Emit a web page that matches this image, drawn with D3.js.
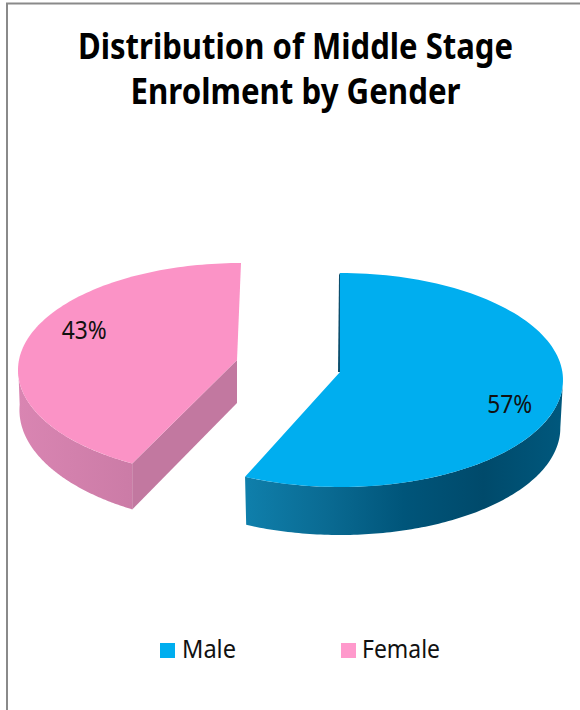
<!DOCTYPE html>
<html><head><meta charset="utf-8">
<script src="https://cdn.jsdelivr.net/npm/d3@7"></script>
<style>html,body{margin:0;padding:0;background:#fff}svg{display:block}</style>
</head><body><svg id="c" width="580" height="710"></svg>
<script>
const categories = ["Male", "Female"];
const values = [57, 43];
const titleLines = ["Distribution of Middle Stage", "Enrolment by Gender"];
const topColors = ["#00aeef", "#fb93c6"];
const legendColors = ["#00aeef", "#ff99cc"];

const svg = d3.select("#c");
const font = "'Noto Sans','Liberation Sans',sans-serif";
const rad = Math.PI / 180;

const color = d3.scaleOrdinal(categories, topColors);
const legendColor = d3.scaleOrdinal(categories, legendColors);
const pie = d3.pie().sort(null).value(d => d.value);
const slices = pie(categories.map((c, i) => ({ name: c, value: values[i] })));

// Each slice is pulled apart and seen in perspective, so it has its own ellipse.
const view = {
  Male:   { cx: 340, cy: 380, rx: 223, ry: 107, ax: 340, ay: 372, warp: 0, depth: 48, lf: 0.78, ldx: 0, ldy: 6 },
  Female: { cx: 241, cy: 370, rx: 223, ry: 107, ax: 237, ay: 360, warp: 4, depth: 46, lf: 0.72, ldx: 0, ldy: -23 }
};

function param(s, a) {
  const v = view[s.data.name];
  const t = (a - s.startAngle) / (s.endAngle - s.startAngle);
  return a + (s.data.name === "Female" ? (1 - t) * v.warp * rad : 0);
}
function rimPt(s, a, dy = 0) {
  const v = view[s.data.name], p = param(s, a);
  const k = dy ? 0.988 : 1;
  return [v.cx + v.rx * k * Math.sin(p), v.cy + dy - v.ry * Math.cos(p)];
}
function rimPts(s, a0, a1, dy = 0) {
  return d3.range(0, 121).map(i => rimPt(s, a0 + (a1 - a0) * i / 120, dy));
}
const line = d3.line();

// Border
svg.append("path").attr("d", "M7,710V3.5H580").attr("fill", "none").attr("stroke", "#8a8a8a").attr("stroke-width", 2);

// Gradients for the outer walls
const defs = svg.append("defs");
function grad(id, x1, x2, stops) {
  const g = defs.append("linearGradient").attr("id", id).attr("gradientUnits", "userSpaceOnUse")
    .attr("x1", x1).attr("x2", x2).attr("y1", 0).attr("y2", 0);
  stops.forEach(s => g.append("stop").attr("offset", s[0]).attr("stop-color", s[1]));
}
grad("maleWall", 246, 562, [[0, "#0f7fab"], [0.25, "#0a6b93"], [0.5, "#00557a"], [0.75, "#004a6b"], [1, "#00587d"]]);
grad("femaleWall", 18, 236, [[0, "#d985b2"], [0.5, "#cc7ca7"], [1, "#bf749c"]]);

slices.forEach(s => {
  const v = view[s.data.name];
  const g = svg.append("g").attr("class", "slice");
  const apex = [v.ax, v.ay];
  if (s.data.name === "Male") {
    const top = rimPt(s, s.startAngle);
    g.append("path").attr("d", line([top, apex, [apex[0] - 2, apex[1]], [top[0] - 1, top[1] + 2]]))
      .attr("fill", "#0b4f6e");
    const upper = rimPts(s, 90 * rad, s.endAngle);
    const lower = rimPts(s, 90 * rad, s.endAngle, v.depth);
    g.append("path").attr("d", line(upper.concat(lower.reverse())) + "Z").attr("fill", "url(#maleWall)");
  } else {
    const tip = rimPt(s, s.startAngle);
    const tipB = [tip[0], tip[1] + v.depth];
    g.append("path").attr("d", line([apex, tip, tipB, [apex[0], apex[1] + v.depth - 3]]) + "Z").attr("fill", "#c278a0");
    const upper = rimPts(s, s.startAngle, 270 * rad);
    const lower = upper.map((p, i) => [p[0] + 1.5 * i / 120, p[1] + v.depth * (1 - 0.15 * i / 120)]);
    g.append("path").attr("d", line(upper.concat(lower.reverse())) + "Z").attr("fill", "url(#femaleWall)");
  }
  g.append("path").attr("d", line([apex].concat(rimPts(s, s.startAngle, s.endAngle))) + "Z")
    .attr("fill", color(s.data.name));
});

// Data labels
const total = d3.sum(values);
svg.append("g").selectAll("text").data(slices).join("text")
  .attr("x", d => { const v = view[d.data.name]; const m = (d.startAngle + d.endAngle) / 2; return v.cx + v.rx * v.lf * Math.sin(m) + v.ldx; })
  .attr("y", d => { const v = view[d.data.name]; const m = (d.startAngle + d.endAngle) / 2; return v.cy - v.ry * v.lf * Math.cos(m) + v.ldy + 9; })
  .attr("text-anchor", "middle").attr("font-family", font).attr("font-size", 26)
  .attr("fill", "#111")
  .attr("textLength", 45).attr("lengthAdjust", "spacingAndGlyphs")
  .text(d => Math.round(d.value / total * 100) + "%");

// Title
const titleWidths = [435, 330];
svg.append("g").selectAll("text").data(titleLines).join("text")
  .attr("x", 295.5).attr("y", (d, i) => 59 + i * 45)
  .attr("text-anchor", "middle").attr("font-family", font).attr("font-weight", 700).attr("font-size", 36)
  .attr("fill", "#000")
  .attr("textLength", (d, i) => titleWidths[i]).attr("lengthAdjust", "spacingAndGlyphs")
  .text(d => d);

// Legend
const legendX = d3.scalePoint().domain(categories).range([160, 341]);
const legendWidths = [54, 78];
const lg = svg.append("g").selectAll("g").data(categories).join("g")
  .attr("transform", d => `translate(${legendX(d)},643)`);
lg.append("rect").attr("width", 15).attr("height", 15).attr("fill", d => legendColor(d));
lg.append("text").attr("x", d => d === "Male" ? 22 : 21).attr("y", 15)
  .attr("font-family", font).attr("font-size", 26).attr("fill", "#111")
  .attr("textLength", (d, i) => legendWidths[i]).attr("lengthAdjust", "spacingAndGlyphs")
  .text(d => d);
</script></body></html>
